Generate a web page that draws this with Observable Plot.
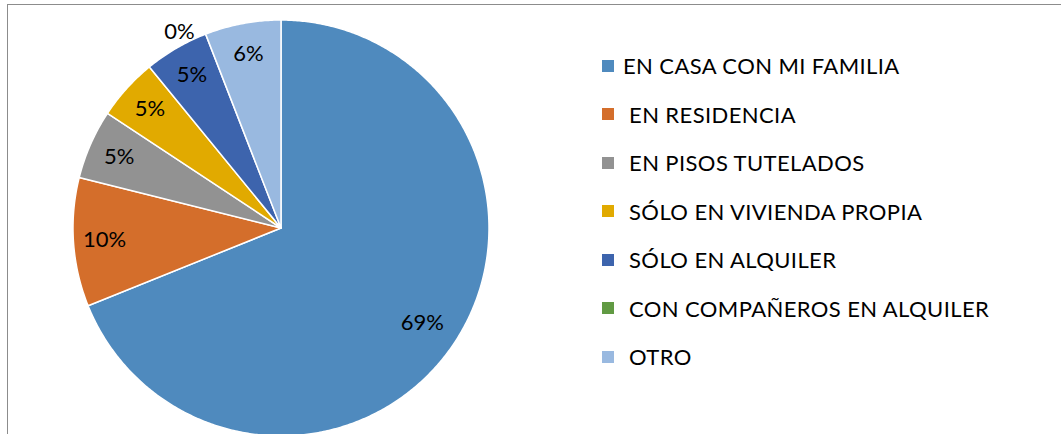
<!DOCTYPE html>
<html>
<head>
<meta charset="utf-8">
<script src="https://cdn.jsdelivr.net/npm/d3@7"></script>
<script src="https://cdn.jsdelivr.net/npm/@observablehq/plot@0.6"></script>
<style>
  html, body { margin: 0; padding: 0; background: #fff; }
  #wrap { position: relative; width: 1061px; height: 434px; overflow: hidden; font-family: Lato, "Liberation Sans", sans-serif; }
  #frame { position: absolute; left: 7px; top: 4px; width: 1100px; height: 500px; border: 1px solid #8c8c8c; box-sizing: border-box; pointer-events: none; }
  #chart { position: absolute; left: 0; top: 0; }
  #legend { position: absolute; left: 602px; top: 41.5px; }
  .row { height: 48.5px; display: flex; align-items: center; font-size: 22px; letter-spacing: 0.4px; color: #000; white-space: pre; }
  .sw { width: 12px; height: 12px; margin-right: 9px; flex: none; }
</style>
</head>
<body>
<div id="wrap">
  <div id="frame"></div>
  <div id="chart"></div>
  <div id="legend"></div>
</div>
<script>
// ---- data ----
const categories = [
  "EN CASA CON MI FAMILIA",
  "EN RESIDENCIA",
  "EN PISOS TUTELADOS",
  "SÓLO EN VIVIENDA PROPIA",
  "SÓLO EN ALQUILER",
  "CON COMPAÑEROS EN ALQUILER",
  "OTRO"
];
const legendLabels = [
  "EN CASA CON MI FAMILIA",
  " EN RESIDENCIA",
  " EN PISOS TUTELADOS",
  " SÓLO EN VIVIENDA PROPIA",
  " SÓLO EN ALQUILER",
  " CON COMPAÑEROS EN ALQUILER",
  " OTRO"
];
const values = [68.9, 10.0, 5.4, 4.8, 5.0, 0, 5.9];
const colors = ["#4f8abe", "#d46e2b", "#929292", "#e1aa00", "#3d64ad", "#619a43", "#99b9e0"];

// ---- layout ----
const W = 1061, H = 434;
const cx = 280.5, cy = 227.5, R = 208;

const pie = d3.pie().sort(null).value(d => d.value).startAngle(0).endAngle(2 * Math.PI);
const arcs = pie(categories.map((c, i) => ({cat: c, value: values[i]})));

const pts = [];
for (const a of arcs) {
  if (a.endAngle - a.startAngle <= 0) continue;
  const n = Math.max(2, Math.ceil((a.endAngle - a.startAngle) / (Math.PI / 360)));
  pts.push({cat: a.data.cat, x: 0, y: 0});
  for (let k = 0; k <= n; k++) {
    const t = a.startAngle + (a.endAngle - a.startAngle) * k / n;
    pts.push({cat: a.data.cat, x: Math.sin(t), y: Math.cos(t)});
  }
  pts.push({cat: a.data.cat, x: 0, y: 0});
}

const labels = arcs.map(a => {
  let m = (a.startAngle + a.endAngle) / 2;
  let r = a.data.value > 50 ? 0.82 : 0.85;
  if (a.data.value === 0) { r = 1.06; m -= 0.108; }
  return {x: Math.sin(m) * r, y: Math.cos(m) * r, text: Math.round(a.data.value) + "%"};
});

const chart = Plot.plot({
  width: W, height: H,
  margin: 0,
  x: {domain: [(0 - cx) / R, (W - cx) / R], axis: null},
  y: {domain: [(cy - H) / R, cy / R], axis: null},
  color: {type: "ordinal", domain: categories, range: colors},
  style: {background: "transparent", fontFamily: "Lato, 'Liberation Sans', sans-serif"},
  marks: [
    Plot.line(pts, {x: "x", y: "y", z: "cat", fill: "cat", stroke: "white", strokeWidth: 1.5, strokeLinejoin: "round", curve: "linear"}),
    Plot.text(labels, {x: "x", y: "y", text: "text", fontSize: 22, fill: "#000"})
  ]
});
document.getElementById("chart").appendChild(chart);

const legend = document.getElementById("legend");
categories.forEach((c, i) => {
  const row = document.createElement("div");
  row.className = "row";
  const sw = document.createElement("span");
  sw.className = "sw";
  sw.style.background = colors[i];
  const tx = document.createElement("span");
  tx.textContent = legendLabels[i];
  row.appendChild(sw);
  row.appendChild(tx);
  legend.appendChild(row);
});
</script>
</body>
</html>
